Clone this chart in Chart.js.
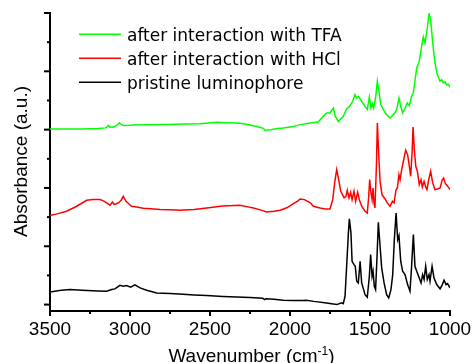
<!DOCTYPE html>
<html><head><meta charset="utf-8">
<script src="https://cdn.jsdelivr.net/npm/chart.js@4/dist/chart.umd.min.js"></script>
<style>html,body{margin:0;padding:0;background:#fff;overflow:hidden}canvas{display:block}</style>
</head><body>
<canvas id="c" width="474" height="363"></canvas>
<script>
// ---- data ----
const seriesLabels = ["after interaction with TFA", "after interaction with HCl", "pristine luminophore"];
const seriesColors = ["#00ff00", "#ff0000", "#000000"];
const xTickValues = [3500, 3000, 2500, 2000, 1500, 1000];
const yTickValues = [0, 1, 2, 3, 4, 5];
const xTitle = "Wavenumber (cm";
const xTitleSup = "-1";
const xTitleEnd = ")";
const yTitle = "Absorbance (a.u.)";

const tfaWN = [3500,3300,3200,3150,3135,3125,3100,3080,3067,3042,3000,2979,2900,2771,2650,2562,2458,2400,2333,2290,2250,2200,2167,2156,2120,2080,2042,1990,1958,1937,1875,1823,1792,1771,1750,1729,1717,1698,1667,1646,1625,1608,1594,1583,1573,1552,1531,1517,1504,1494,1485,1478,1471,1464,1454,1444,1433,1417,1396,1375,1354,1333,1319,1308,1296,1281,1267,1254,1240,1229,1219,1208,1192,1177,1167,1156,1146,1131,1121,1108,1094,1079,1062,1052,1042,1031,1021,1010,1000];
const tfaAbs = [3.011,3.011,3.02,3.03,3.069,3.04,3.045,3.08,3.114,3.069,3.075,3.08,3.085,3.09,3.095,3.1,3.126,3.12,3.114,3.1,3.08,3.05,3.023,2.99,3.0,3.02,3.03,3.05,3.069,3.086,3.114,3.13,3.23,3.286,3.286,3.37,3.23,3.14,3.23,3.354,3.41,3.486,3.6,3.543,3.571,3.486,3.4,3.343,3.56,3.37,3.44,3.37,3.457,3.571,3.83,3.66,3.43,3.343,3.257,3.2,3.257,3.343,3.543,3.4,3.286,3.37,3.457,3.41,3.571,3.63,3.83,4.057,4.17,4.43,4.59,4.486,4.657,4.99,4.886,4.486,4.143,3.94,3.83,3.857,3.8,3.82,3.77,3.78,3.73];

const hclWN = [3500,3450,3396,3333,3271,3230,3187,3160,3146,3125,3110,3100,3085,3073,3055,3042,3025,3008,2990,2958,2917,2870,2812,2750,2687,2600,2521,2420,2312,2270,2229,2180,2146,2100,2062,2020,1979,1950,1937,1910,1875,1854,1812,1780,1750,1733,1721,1708,1696,1683,1662,1650,1642,1631,1621,1612,1600,1590,1577,1567,1552,1531,1517,1508,1502,1494,1487,1481,1475,1469,1460,1454,1446,1437,1425,1406,1392,1375,1360,1350,1337,1329,1319,1312,1302,1287,1277,1265,1254,1246,1237,1231,1223,1214,1204,1192,1181,1173,1162,1152,1144,1133,1121,1108,1094,1079,1062,1048,1040,1029,1017,1000];
const hclAbs = [1.526,1.56,1.6,1.686,1.789,1.8,1.8,1.77,1.743,1.703,1.76,1.72,1.73,1.743,1.79,1.857,1.77,1.73,1.686,1.674,1.651,1.645,1.63,1.625,1.617,1.63,1.657,1.69,1.703,1.68,1.657,1.62,1.589,1.6,1.617,1.66,1.731,1.78,1.811,1.8,1.75,1.686,1.657,1.64,1.64,1.8,2.086,2.314,2.143,1.943,1.829,1.857,1.96,1.829,1.926,1.8,1.943,1.771,1.926,1.8,1.686,1.6,1.571,1.857,2.143,1.914,1.8,2.0,1.743,1.657,2.371,3.114,2.6,2.114,1.886,1.811,1.743,1.686,1.771,1.743,1.97,2.0,2.229,2.143,2.314,2.514,2.646,2.571,2.371,2.2,2.6,3.046,2.657,2.371,2.286,2.057,2.143,2.017,2.114,2.017,1.971,2.143,2.286,2.086,1.971,1.983,2.0,2.143,2.171,2.074,2.04,1.971];

const pristineWN = [3500,3430,3375,3300,3200,3146,3115,3094,3063,3042,3021,2996,2969,2937,2896,2833,2750,2667,2600,2521,2420,2333,2250,2170,2160,2150,2100,2042,1980,1917,1900,1850,1771,1730,1708,1677,1667,1656,1646,1635,1629,1619,1612,1600,1592,1583,1573,1562,1552,1531,1517,1504,1496,1487,1481,1473,1465,1456,1448,1437,1427,1412,1396,1383,1369,1358,1348,1337,1327,1319,1308,1296,1281,1265,1250,1240,1229,1219,1208,1192,1181,1171,1162,1152,1142,1131,1125,1112,1100,1083,1062,1048,1037,1025,1015,1004,1000];
const pristineAbs = [0.217,0.245,0.257,0.245,0.235,0.229,0.257,0.269,0.331,0.314,0.326,0.30,0.337,0.286,0.246,0.2,0.19,0.177,0.165,0.154,0.14,0.131,0.12,0.109,0.085,0.1,0.09,0.075,0.072,0.069,0.075,0.055,0.029,0.012,0.0,0.03,0.017,0.143,0.657,1.229,1.469,1.229,0.743,0.686,0.657,0.4,0.371,0.743,0.371,0.171,0.126,0.486,0.857,0.486,0.571,0.314,0.257,0.829,1.41,1.0,0.629,0.371,0.171,0.114,0.257,0.514,1.114,1.571,1.114,1.183,0.743,0.571,0.514,0.343,0.229,0.657,1.2,0.657,0.571,0.457,0.371,0.514,0.429,0.657,0.429,0.514,0.4,0.657,0.457,0.343,0.269,0.343,0.417,0.343,0.36,0.303,0.326];

// ---- build ----
const toPts = (wn, ab) => wn.map((w, i) => ({x: w, y: ab[i]}));
const seriesData = [toPts(tfaWN, tfaAbs), toPts(hclWN, hclAbs), toPts(pristineWN, pristineAbs)];
const FONT = "'Liberation Sans', Arial, sans-serif";
const LEGEND_FONT = "'DejaVu Sans', sans-serif";

const decor = {
  id: 'decor',
  afterDraw(chart) {
    const {ctx, chartArea: a, scales: {x, y}} = chart;
    ctx.save();
    ctx.strokeStyle = '#000';
    ctx.lineWidth = 2;
    // x ticks (major + minor)
    const xs = [...xTickValues].sort((p, q) => p - q);
    for (let i = 0; i < xs.length; i++) {
      const px = x.getPixelForValue(xs[i]);
      ctx.beginPath(); ctx.moveTo(px, a.bottom); ctx.lineTo(px, a.bottom + 5); ctx.stroke();
      if (i < xs.length - 1) {
        const pm = x.getPixelForValue((xs[i] + xs[i + 1]) / 2);
        ctx.beginPath(); ctx.moveTo(pm, a.bottom); ctx.lineTo(pm, a.bottom + 3); ctx.stroke();
      }
    }
    // y ticks
    for (let i = 0; i < yTickValues.length; i++) {
      const py = y.getPixelForValue(yTickValues[i]);
      ctx.beginPath(); ctx.moveTo(a.left, py); ctx.lineTo(a.left - 6, py); ctx.stroke();
      if (i < yTickValues.length - 1) {
        const pm = y.getPixelForValue((yTickValues[i] + yTickValues[i + 1]) / 2);
        ctx.beginPath(); ctx.moveTo(a.left, pm); ctx.lineTo(a.left - 3, pm); ctx.stroke();
      }
    }
    // x title with superscript
    ctx.fillStyle = '#000';
    ctx.textBaseline = 'alphabetic';
    ctx.textAlign = 'left';
    ctx.font = '19px ' + FONT;
    const w1 = ctx.measureText(xTitle).width;
    const w3 = ctx.measureText(xTitleEnd).width;
    ctx.font = '12px ' + FONT;
    const w2 = ctx.measureText(xTitleSup).width;
    const total = w1 + w2 + w3;
    let sx = 251.5 - total / 2;
    const by = 361.5;
    ctx.font = '19px ' + FONT;
    ctx.fillText(xTitle, sx, by);
    ctx.font = '12px ' + FONT;
    ctx.fillText(xTitleSup, sx + w1, by - 7);
    ctx.font = '19px ' + FONT;
    ctx.fillText(xTitleEnd, sx + w1 + w2, by);
    // y title
    ctx.save();
    ctx.translate(26.6, 161.5);
    ctx.rotate(-Math.PI / 2);
    ctx.textAlign = 'center';
    ctx.fillText(yTitle, 0, 0);
    ctx.restore();
    // legend
    for (let i = 0; i < seriesLabels.length; i++) {
      const ly = 34.3 + 24 * i;
      ctx.strokeStyle = seriesColors[i];
      ctx.lineWidth = 1.6;
      ctx.beginPath(); ctx.moveTo(79, ly); ctx.lineTo(121, ly); ctx.stroke();
      ctx.fillStyle = '#000';
      ctx.font = '17px ' + LEGEND_FONT;
      ctx.textAlign = 'left';
      ctx.fillText(seriesLabels[i], 127, ly + 6.3);
    }
    ctx.restore();
  }
};

new Chart(document.getElementById('c'), {
  type: 'line',
  data: {
    datasets: seriesData.map((d, i) => ({
      label: seriesLabels[i],
      data: d,
      borderColor: seriesColors[i],
      borderWidth: 1.5,
      pointRadius: 0,
      tension: 0,
      fill: false
    }))
  },
  options: {
    responsive: false,
    animation: false,
    devicePixelRatio: 1,
    layout: {padding: {left: 0, top: 13, right: 24, bottom: 0}},
    plugins: {legend: {display: false}, tooltip: {enabled: false}},
    scales: {
      x: {
        type: 'linear',
        min: 1000, max: 3500, reverse: true,
        afterFit: s => { s.height = 52; s.paddingLeft = 0; s.paddingRight = 0; },
        afterBuildTicks: s => { s.ticks = xTickValues.map(v => ({value: v})); },
        grid: {display: false, drawTicks: false},
        border: {display: true, color: '#000', width: 2},
        ticks: {color: '#000', font: {family: FONT, size: 19}, padding: 7, maxRotation: 0, autoSkip: false,
                callback: v => String(v)}
      },
      y: {
        type: 'linear',
        min: -0.11, max: 5,
        afterFit: s => { s.width = 50; },
        grid: {display: false, drawTicks: false},
        border: {display: true, color: '#000', width: 2},
        ticks: {display: false}
      }
    }
  },
  plugins: [decor]
});
</script>
</body></html>
